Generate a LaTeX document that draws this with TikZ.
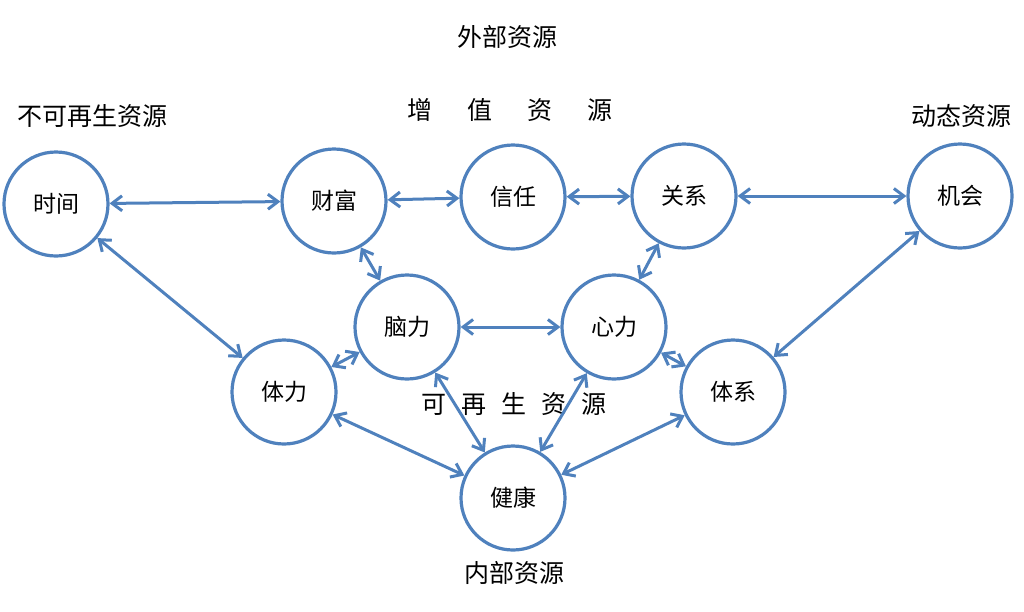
\documentclass[tikz,border=0pt]{standalone}
\usepackage{fontspec}
\newfontfamily\cjk{Noto Sans CJK SC}
\usetikzlibrary{arrows.meta}
\definecolor{resblue}{RGB}{79,129,189}
\begin{document}
\begin{tikzpicture}[x=1pt, y=-1pt, line width=3pt, >={Straight Barb[length=10pt,width=15pt]},
    res/.style = {draw=resblue, circle, fill=white, line width=3.2pt, minimum size=104pt, inner sep=0pt, font=\cjk\fontsize{23}{23}\selectfont},
    tag/.style = {font=\cjk\fontsize{25}{25}\selectfont, inner sep=0pt},
    link/.style = {<->, draw=resblue, line width=3pt}]
    \useasboundingbox (0,0) rectangle (1024,611);
    % circles
    \node[res] (time) at (56,204) {时间};
    \node[res] (wealth) at (334,201) {财富};
    \node[res] (trust) at (513,197) {信任};
    \node[res] (relation) at (684,196) {关系};
    \node[res] (chance) at (960,196) {机会};
    \node[res] (brain) at (407,327) {脑力};
    \node[res] (heart) at (614,327) {心力};
    \node[res] (body) at (284,392) {体力};
    \node[res] (system) at (733,392) {体系};
    \node[res] (health) at (513,498) {健康};
    % labels
    \node[tag] (outer) at (507,37) {外部资源};
    \node[tag] (added) at (510,110) {增\hspace{35pt}值\hspace{35pt}资\hspace{35pt}源};
    \node[tag] (fixed) at (92,116) {不可再生资源};
    \node[tag] (dynamic) at (961,116) {动态资源};
    \node[tag] (renew) at (514,404) {可\hspace{15pt}再\hspace{15pt}生\hspace{15pt}资\hspace{15pt}源};
    \node[tag] (inner) at (514,573) {内部资源};
    % links
    \draw[link] (time) -- (wealth);
    \draw[link] (wealth) -- (trust);
    \draw[link] (trust) -- (relation);
    \draw[link] (relation) -- (chance);
    \draw[link] (time) -- (body);
    \draw[link] (wealth) -- (brain);
    \draw[link] (relation) -- (heart);
    \draw[link] (brain) -- (heart);
    \draw[link] (body) -- (brain);
    \draw[link] (heart) -- (system);
    \draw[link] (chance) -- (system);
    \draw[link] (body) -- (health);
    \draw[link] (brain) -- (health);
    \draw[link] (heart) -- (health);
    \draw[link] (system) -- (health);
\end{tikzpicture}
\end{document}
